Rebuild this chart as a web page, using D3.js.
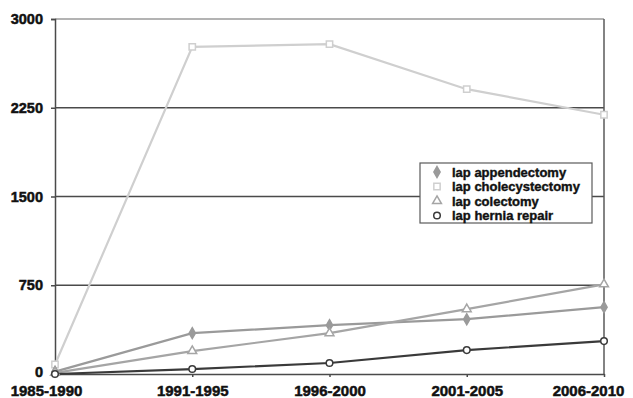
<!DOCTYPE html>
<html><head><meta charset="utf-8">
<script src="https://cdn.jsdelivr.net/npm/d3@7"></script>
<style>body{margin:0;background:#fff;} svg{display:block;}</style>
</head><body>
<svg id="chart" width="633" height="398"></svg>
<script>
const categories = ["1985-1990","1991-1995","1996-2000","2001-2005","2006-2010"];
const appendectomy = [20, 345, 413, 463, 565];
const cholecystectomy = [80, 2764, 2787, 2407, 2191];
const colectomy = [10, 194, 345, 548, 758];
const herniaRepair = [0, 42, 93, 202, 278];
const yTicks = [0, 750, 1500, 2250, 3000];
const seriesNames = ["lap appendectomy","lap cholecystectomy","lap colectomy","lap hernia repair"];

const series = [
  {name: seriesNames[0], values: appendectomy, color: "#9a9a9a", marker: "diamond", fill: "#9a9a9a"},
  {name: seriesNames[1], values: cholecystectomy, color: "#cfcfcf", marker: "square", fill: "#fff"},
  {name: seriesNames[2], values: colectomy, color: "#a5a5a5", marker: "triangle", fill: "#fff"},
  {name: seriesNames[3], values: herniaRepair, color: "#3a3a3a", marker: "circle", fill: "#fff"}
];

const FONT = "Liberation Sans, Arial, sans-serif";
const svg = d3.select("#chart");
const x = d3.scalePoint().domain(categories).range([55, 604]);
const y = d3.scaleLinear().domain([0, 3000]).range([374, 19]);

// gridlines
svg.append("g").selectAll("line").data(yTicks.filter(d => d > 0)).join("line")
  .attr("x1", 55).attr("x2", 604)
  .attr("y1", d => y(d)).attr("y2", d => y(d))
  .attr("stroke", d => d === 3000 ? "#9a9a9a" : "#4a4a4a").attr("stroke-width", 1.5);

// right border
svg.append("line").attr("x1", 604).attr("x2", 604).attr("y1", y(3000)).attr("y2", y(0))
  .attr("stroke", "#5a5a5a").attr("stroke-width", 1.5);

// y axis
const yAxis = svg.append("g").attr("transform", "translate(55,0)")
  .call(d3.axisLeft(y).tickValues(yTicks).tickSize(4).tickPadding(8).tickFormat(d3.format("d")));
yAxis.select(".domain").attr("stroke", "#4a4a4a").attr("stroke-width", 1.5);
yAxis.selectAll(".tick line").attr("stroke", "#4a4a4a").attr("stroke-width", 1.5);
yAxis.selectAll("text").attr("font-family", FONT)
  .attr("font-weight", "bold").attr("font-size", 14.5).attr("fill", "#111")
  .attr("stroke", "#111").attr("stroke-width", 0.5)
  .attr("dy", d => d === 0 ? "0.18em" : "0.32em");

// x axis
const xAxis = svg.append("g").attr("transform", `translate(0,${y(0)})`)
  .call(d3.axisBottom(x).tickSize(3).tickSizeOuter(0).tickPadding(8));
xAxis.select(".domain").attr("stroke", "#4a4a4a").attr("stroke-width", 1.5);
xAxis.selectAll(".tick line").attr("stroke", "#4a4a4a").attr("stroke-width", 1.5);
xAxis.selectAll("text").attr("font-family", FONT)
  .attr("font-weight", "bold").attr("font-size", 15).attr("fill", "#111")
  .attr("stroke", "#111").attr("stroke-width", 0.5)
  .attr("dx", (d, i) => i === 0 ? -9 : (i === categories.length - 1 ? -16 : 0));

const line = d3.line().x((d, i) => x(categories[i])).y(d => y(d));

const symbolFor = {
  diamond: d3.symbol().type(d3.symbolDiamond).size(34),
  square: d3.symbol().type(d3.symbolSquare).size(40),
  triangle: d3.symbol().type(d3.symbolTriangle).size(34),
  circle: d3.symbol().type(d3.symbolCircle).size(34)
};

// draw order: cholecystectomy first (back), then others
const order = [1, 0, 2, 3];
order.forEach(k => {
  const s = series[k];
  svg.append("path").datum(s.values).attr("d", line)
    .attr("fill", "none").attr("stroke", s.color).attr("stroke-width", 2.2);
});
order.forEach(k => {
  const s = series[k];
  svg.append("g").selectAll("path").data(s.values).join("path")
    .attr("transform", (d, i) => `translate(${x(categories[i])},${y(d)})`)
    .attr("d", symbolFor[s.marker])
    .attr("fill", s.fill).attr("stroke", s.color).attr("stroke-width", 1.5);
});

// legend
const lg = svg.append("g").attr("transform", "translate(420,163)");
lg.append("rect").attr("width", 172).attr("height", 60)
  .attr("fill", "#fff").attr("stroke", "#5a5a5a").attr("stroke-width", 1.2);
series.forEach((s, i) => {
  const row = lg.append("g").attr("transform", `translate(0,${9 + i * 14.5})`);
  row.append("path").attr("transform", "translate(17,0)")
    .attr("d", symbolFor[s.marker])
    .attr("fill", s.fill).attr("stroke", s.color).attr("stroke-width", 1.5);
  row.append("text").attr("x", 32).attr("y", 0).attr("dy", "0.35em")
    .attr("font-family", FONT).attr("font-weight", "bold")
    .attr("font-size", 13).attr("fill", "#111")
    .attr("stroke", "#111").attr("stroke-width", 0.4).text(s.name);
});
</script>
</body></html>
